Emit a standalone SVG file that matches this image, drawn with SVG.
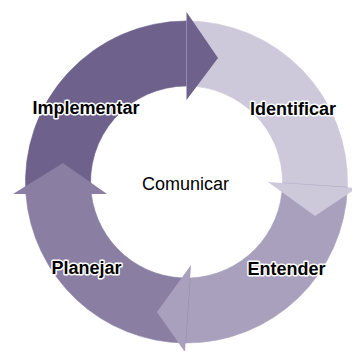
<svg xmlns="http://www.w3.org/2000/svg" width="352" height="351" viewBox="0 0 352 351">
<style>
.lbl{font-family:"Liberation Sans",Arial,sans-serif;font-size:18px;font-weight:bold;fill:#000;stroke:#fff;stroke-width:3px;stroke-linejoin:round;paint-order:stroke;text-anchor:middle}
.ctr{font-family:"Liberation Sans",Arial,sans-serif;font-size:18px;fill:#000;text-anchor:middle}
.body{stroke-width:0.6px;stroke-linejoin:round}
.c1{fill:#6e618b;stroke:#6e618b}
.c2{fill:#cdc8da;stroke:#cdc8da}
.c3{fill:#a9a0be;stroke:#a9a0be}
.c4{fill:#8a7ea3;stroke:#8a7ea3}
.head{stroke:none}
</style>
<rect width="352" height="351" fill="#fff"/>
<g id="connectors">
<path class="body c1" d="M25.9,194 A161,161 0 0 1 186.5,21 L186.5,86 A96,96 0 0 0 91.3,194 Z"/>
<path class="body c2" d="M186.5,21 A161,161 0 0 1 347.4,187.3 L282.5,183 A96,96 0 0 0 186.5,86 Z"/>
<path class="body c3" d="M347.4,187.3 A161,161 0 0 1 185.5,343 L190.1,278 A96,96 0 0 0 282.5,183 Z"/>
<path class="body c4" d="M185.5,343 A161,161 0 0 1 25.9,194 L91.3,194 A96,96 0 0 0 190.1,278 Z"/>
<polygon class="head c1" points="186.5,12 218,58 186.5,100"/>
<polygon class="head c2" points="268,182 315,216 357,188"/>
<polygon class="head c3" points="191,265 157,312 184.9,352"/>
<polygon class="head c4" points="13,194 63,163 107,194"/>
</g>
<g id="node-implementar"><text class="lbl" x="86" y="114">Implementar</text></g>
<g id="node-identificar"><text class="lbl" x="293" y="115">Identificar</text></g>
<g id="node-entender"><text class="lbl" x="286.5" y="275">Entender</text></g>
<g id="node-planejar"><text class="lbl" x="86.5" y="274">Planejar</text></g>
<g id="node-comunicar"><text class="ctr" x="185.5" y="190">Comunicar</text></g>
</svg>
